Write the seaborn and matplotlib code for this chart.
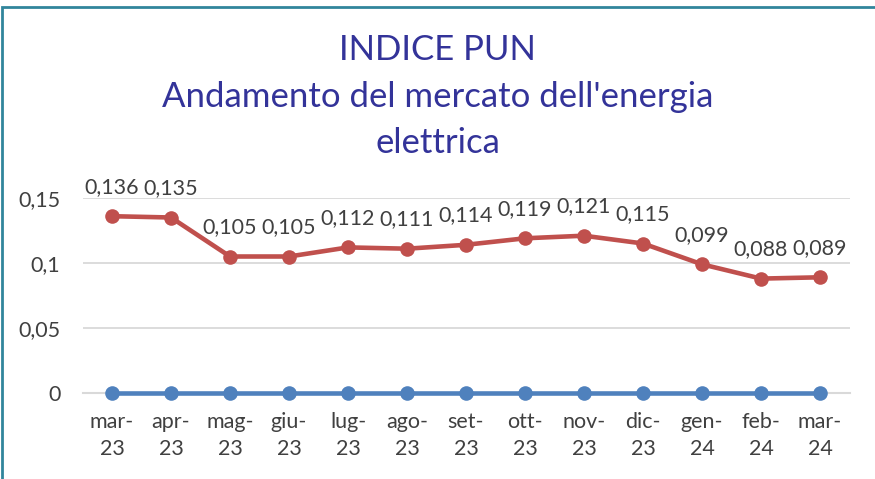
import matplotlib
matplotlib.use("Agg")
import matplotlib.pyplot as plt
import seaborn as sns
import pandas as pd
import numpy as np
from matplotlib.patches import Rectangle

months = ["mar-\n23", "apr-\n23", "mag-\n23", "giu-\n23", "lug-\n23", "ago-\n23", "set-\n23",
          "ott-\n23", "nov-\n23", "dic-\n23", "gen-\n24", "feb-\n24", "mar-\n24"]
pun = [0.136, 0.135, 0.105, 0.105, 0.112, 0.111, 0.114, 0.119, 0.121, 0.115, 0.099, 0.088, 0.089]
zero_series = [0, 0, 0, 0, 0, 0, 0, 0, 0, 0, 0, 0, 0]
yticks = [0, 0.05, 0.1, 0.15]
ytick_labels = ["0", "0,05", "0,1", "0,15"]

sns.set_theme(style="white")
plt.rcParams['font.family'] = ['Lato', 'DejaVu Sans']

df = pd.DataFrame({
    "idx": list(range(len(months))) * 2,
    "val": zero_series + pun,
    "serie": ["base"] * len(months) + ["PUN"] * len(months),
})

fig = plt.figure(figsize=(8.75, 4.79), dpi=100)
ax = fig.add_axes([82.5 / 875, 1 - 393 / 479, 767 / 875, 195 / 479])

sns.lineplot(data=df, x="idx", y="val", hue="serie", palette={"base": "#4F81BD", "PUN": "#C0504D"},
             hue_order=["base", "PUN"], marker="o", linewidth=3.3,
             ax=ax, legend=False)
for ln in ax.lines:
    ln.set_clip_on(False)
    ln.set_zorder(4)
    ln.set_markersize(10.5)
    ln.set_markeredgewidth(0)

ax.set_xlim(-0.5, len(months) - 0.5)
ax.set_ylim(0, 0.15)
ax.set_yticks(yticks)
ax.set_yticklabels(ytick_labels)
ax.set_xticks(range(len(months)))
ax.set_xticklabels(months)
ax.set_xticks(np.arange(-0.5, len(months), 1), minor=True)
ax.tick_params(axis="x", which="major", length=0, pad=14, labelsize=15.5, colors="#404040")
ax.tick_params(axis="x", which="minor", length=6, width=1.5, color="#D9D9D9")
ax.tick_params(axis="y", length=0, pad=16, labelsize=15.5, colors="#404040")
for lab in ax.get_xticklabels():
    lab.set_linespacing(1.4)
ax.set_xlabel("")
ax.set_ylabel("")
ax.grid(axis="y", color="#D9D9D9", linewidth=1.3)
ax.set_axisbelow(True)
for s in ["left", "right", "top"]:
    ax.spines[s].set_visible(False)
ax.spines["bottom"].set_color("#D9D9D9")
ax.spines["bottom"].set_linewidth(1.5)

for i, v in enumerate(pun):
    ax.annotate(f"{v:.3f}".replace(".", ","), (i, v), xytext=(0, 14), textcoords="offset points",
                ha="center", va="bottom", fontsize=15.5, color="#404040")

title_color = "#333399"
fig.text(0.5, 1 - 50 / 479, "INDICE PUN", ha="center", va="center", fontsize=25, color=title_color)
fig.text(0.5, 1 - 97 / 479, "Andamento del mercato dell'energia", ha="center", va="center",
         fontsize=25, color=title_color)
fig.text(0.5, 1 - 143 / 479, "elettrica", ha="center", va="center", fontsize=25, color=title_color)

fig.patches.append(Rectangle((1.5 / 875, -0.01), 1.2, 1 - 7 / 479 + 0.01, transform=fig.transFigure,
                             fill=False, edgecolor="#31859C", linewidth=2))

fig.savefig("out.png", dpi=100)
